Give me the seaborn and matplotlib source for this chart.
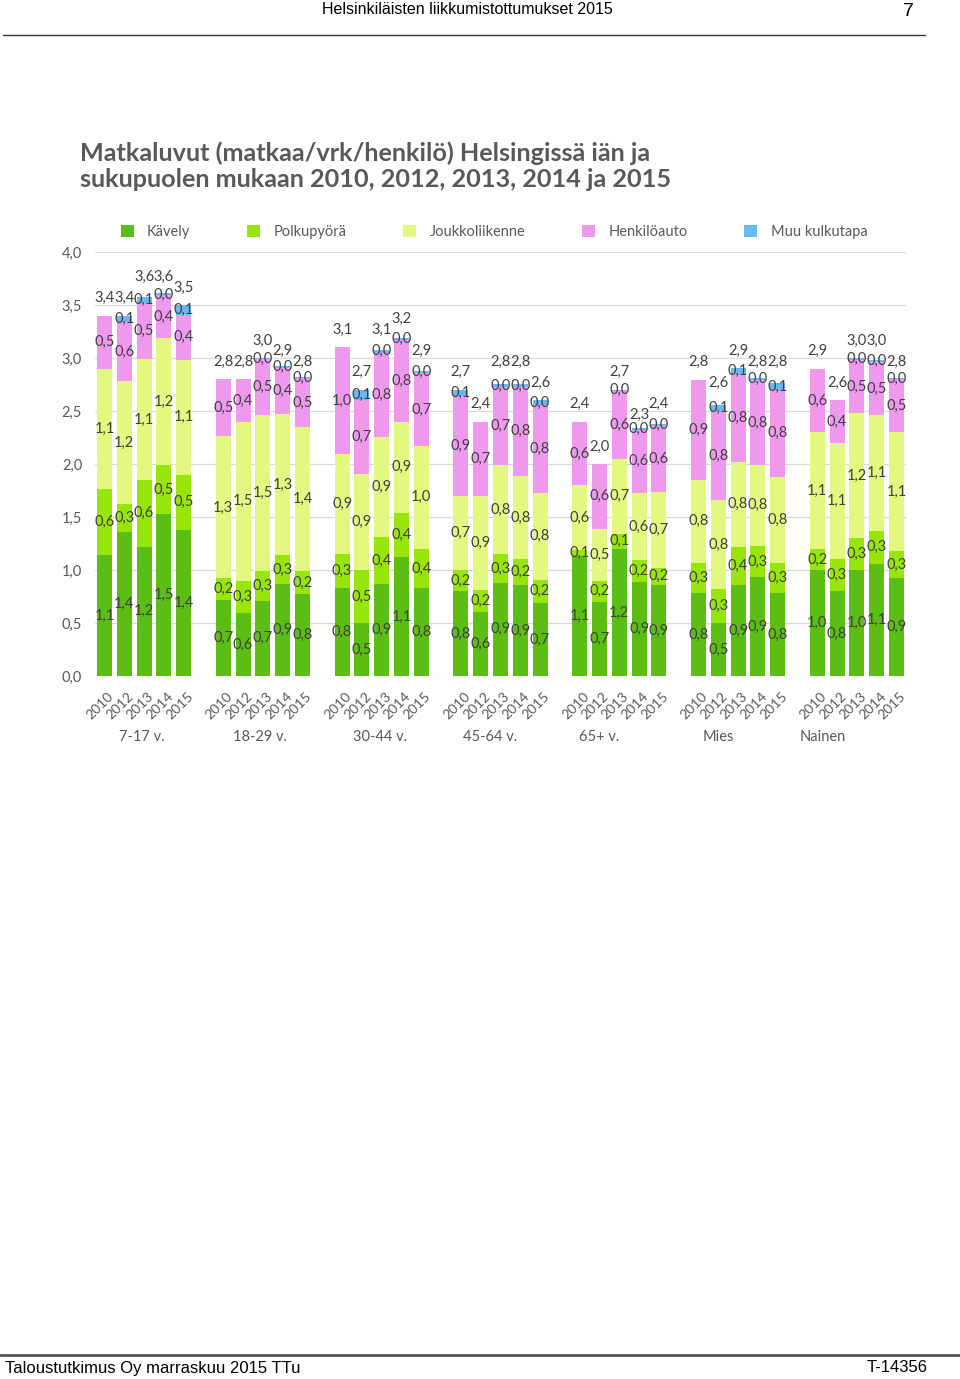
import numpy as np
import pandas as pd
import matplotlib
matplotlib.use("Agg")
import matplotlib.pyplot as plt
import seaborn as sns
from matplotlib.patches import Patch
from matplotlib.lines import Line2D
from matplotlib.transforms import blended_transform_factory, ScaledTranslation

# ---------------- data ----------------
groups = ["7-17 v.", "18-29 v.", "30-44 v.", "45-64 v.", "65+ v.", "Mies", "Nainen"]
years = ["2010", "2012", "2013", "2014", "2015"]
series = ["Kävely", "Polkupyörä", "Joukkoliikenne", "Henkilöauto", "Muu kulkutapa"]

walk = [1.14, 1.36, 1.22, 1.53, 1.38,
        0.72, 0.59, 0.71, 0.87, 0.77,
        0.83, 0.50, 0.87, 1.12, 0.83,
        0.80, 0.60, 0.88, 0.86, 0.69,
        1.13, 0.70, 1.20, 0.89, 0.86,
        0.78, 0.50, 0.86, 0.93, 0.78,
        1.00, 0.80, 1.00, 1.06, 0.92]
bike = [0.62, 0.26, 0.63, 0.46, 0.52,
        0.20, 0.31, 0.28, 0.27, 0.22,
        0.32, 0.50, 0.44, 0.42, 0.37,
        0.20, 0.21, 0.27, 0.24, 0.22,
        0.06, 0.20, 0.14, 0.20, 0.16,
        0.29, 0.32, 0.36, 0.30, 0.29,
        0.20, 0.30, 0.30, 0.31, 0.26]
transit = [1.14, 1.16, 1.14, 1.20, 1.08,
           1.34, 1.50, 1.47, 1.33, 1.36,
           0.94, 0.91, 0.94, 0.86, 0.97,
           0.70, 0.89, 0.84, 0.79, 0.82,
           0.61, 0.49, 0.71, 0.64, 0.72,
           0.78, 0.84, 0.80, 0.76, 0.81,
           1.10, 1.10, 1.18, 1.09, 1.12]
car = [0.50, 0.56, 0.53, 0.40, 0.43,
       0.54, 0.40, 0.53, 0.44, 0.46,
       1.01, 0.69, 0.80, 0.77, 0.69,
       0.94, 0.70, 0.74, 0.84, 0.83,
       0.60, 0.61, 0.64, 0.59, 0.62,
       0.94, 0.84, 0.83, 0.80, 0.82,
       0.60, 0.40, 0.50, 0.50, 0.50]
nan = np.nan
other = [nan, 0.06, 0.06, 0.02, 0.09,
         nan, nan, 0.01, 0.01, 0.01,
         nan, 0.10, 0.03, 0.02, 0.02,
         0.06, nan, 0.02, 0.02, 0.04,
         nan, nan, 0.01, 0.02, 0.02,
         nan, 0.06, 0.06, 0.02, 0.06,
         nan, nan, 0.02, 0.02, 0.01]
total = [3.4, 3.4, 3.6, 3.6, 3.5,
         2.8, 2.8, 3.0, 2.9, 2.8,
         3.1, 2.7, 3.1, 3.2, 2.9,
         2.7, 2.4, 2.8, 2.8, 2.6,
         2.4, 2.0, 2.7, 2.3, 2.4,
         2.8, 2.6, 2.9, 2.8, 2.8,
         2.9, 2.6, 3.0, 3.0, 2.8]
yticks = [0.0, 0.5, 1.0, 1.5, 2.0, 2.5, 3.0, 3.5, 4.0]

colors = ["#5CBE14", "#98E50C", "#E2F880", "#EE99EE", "#6BB8F0"]

# ---------------- frame ----------------
rows = []
for g, grp in enumerate(groups):
    for j, yr in enumerate(years):
        i = g * 5 + j
        rows.append(dict(group=grp, year=yr, pos=g * 6 + j,
                         walk=walk[i], bike=bike[i], transit=transit[i],
                         car=car[i], other=other[i], total=total[i]))
df = pd.DataFrame(rows)
cols = ["walk", "bike", "transit", "car", "other"]
vals = df[cols].fillna(0.0)
cum = vals.cumsum(axis=1)

sns.set_style("white")
plt.rcParams["font.family"] = ["Lato", "DejaVu Sans"]

W, H = 960, 1379
fig = plt.figure(figsize=(W / 100, H / 100), dpi=100)
ax = fig.add_axes([94.6 / W, 1 - 676 / H, (906.4 - 94.6) / W, (676 - 252) / H])

for k in range(len(cols) - 1, -1, -1):
    sns.barplot(x=df["pos"], y=cum[cols[k]], native_scale=True, width=0.76,
                color=colors[k], saturation=1, errorbar=None, linewidth=0, ax=ax)

ax.set_xlim(-0.5, 40.5)
ax.set_ylim(0, 4.0)
ax.set_yticks(yticks)
ax.set_yticklabels([f"{v:.1f}".replace(".", ",") for v in yticks], fontsize=10.5, color="#595959")
ax.tick_params(axis="y", length=0, pad=9)
ax.yaxis.grid(True, color="#D9D9D9", lw=0.9)
ax.set_axisbelow(True)
for s in ax.spines.values():
    s.set_visible(False)
ax.set_xlabel("")
ax.set_ylabel("")

ax.set_xticks(df["pos"].tolist())
ax.set_xticklabels(df["year"].tolist(), rotation=45, ha="right",
                   rotation_mode="anchor", fontsize=10, color="#595959")
ax.tick_params(axis="x", length=0, pad=10)
off = ScaledTranslation(3 / 100, 0, fig.dpi_scale_trans)
for lab in ax.get_xticklabels():
    lab.set_transform(lab.get_transform() + off)

# data labels
fmt = lambda v: f"{v:.1f}".replace(".", ",")
lab_kw = dict(ha="center", va="center", fontsize=10.5, color="#404040")
for r in range(len(df)):
    x = df["pos"].iloc[r]
    base = 0.0
    for k, c in enumerate(cols):
        v = df[c].iloc[r]
        if not np.isnan(v):
            ax.text(x, base + v / 2, fmt(v), **lab_kw)
            base += v
    ax.text(x, df["total"].iloc[r] + 0.165, fmt(df["total"].iloc[r]), **lab_kw)

# group labels
group_label_pos = [1.89, 7.85, 13.9, 19.5, 25.0, 31.0, 36.3]
tr = blended_transform_factory(ax.transData, fig.transFigure)
for gx, gname in zip(group_label_pos, groups):
    ax.text(gx, 1 - 737 / H, gname, transform=tr, ha="center", va="center",
            fontsize=10.5, color="#595959")

# legend
handles = [Patch(facecolor=c, edgecolor="none", label=s) for c, s in zip(colors, series)]
leg = fig.legend(handles=handles, loc="center", bbox_to_anchor=(494 / W, 1 - 232 / H),
                 ncol=5, frameon=False, fontsize=10.5, handlelength=0.9, handleheight=0.9,
                 handletextpad=0.9, columnspacing=3.9)
for t in leg.get_texts():
    t.set_color("#595959")

# title
fig.text(80 / W, 1 - 141 / H,
         "Matkaluvut (matkaa/vrk/henkilö) Helsingissä iän ja\nsukupuolen mukaan 2010, 2012, 2013, 2014 ja 2015",
         ha="left", va="top", fontsize=18.2, fontweight="bold", color="#595959", linespacing=1.2)

# page header / footer
fig.text(467 / W, 1 - 9.5 / H, "Helsinkiläisten liikkumistottumukset 2015", ha="center", va="center",
         fontsize=11.5, family="Liberation Sans", color="black")
fig.text(908 / W, 1 - 11.5 / H, "7", ha="center", va="center", fontsize=14,
         family="Liberation Sans", color="black")
fig.add_artist(Line2D([3 / W, 925 / W], [1 - 35 / H] * 2, color="#333333", lw=1))
fig.add_artist(Line2D([0, 1], [1 - 1355 / H] * 2, color="#555555", lw=2))
fig.text(5 / W, 1 - 1368 / H, "Taloustutkimus Oy marraskuu 2015 TTu", ha="left", va="center",
         fontsize=12, family="Liberation Sans", color="black")
fig.text(928 / W, 1 - 1368 / H, "T-14356", ha="right", va="center",
         fontsize=12, family="Liberation Sans", color="black")

fig.savefig("out.png", dpi=100, facecolor="white")
